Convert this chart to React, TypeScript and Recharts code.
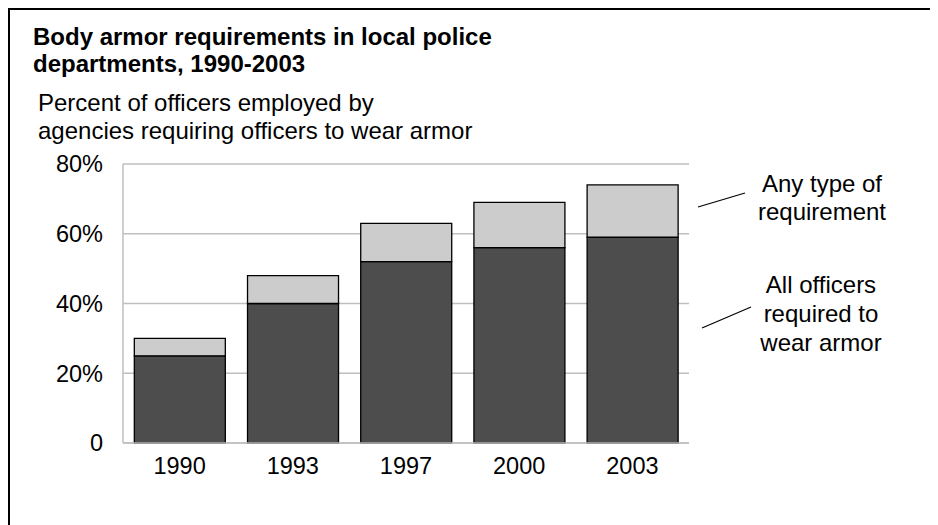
import React from 'react';
import { BarChart, Bar, XAxis, YAxis, CartesianGrid } from 'recharts';

const years = ['1990', '1993', '1997', '2000', '2003'];
// percent of officers in agencies where all officers are required to wear armor
const allOfficers = [25, 40, 52, 56, 59];
// percent of officers in agencies with any type of requirement
const anyRequirement = [30, 48, 63, 69, 74];
const yTicks = [0, 20, 40, 60, 80];

const chartData = years.map((year, i) => ({
  year,
  all: allOfficers[i],
  extra: anyRequirement[i] - allOfficers[i],
}));

const FONT = '"Liberation Sans", Arial, Helvetica, sans-serif';
const W = 930;
const H = 517;

const App: React.FC = () => {
  const tickStyle = { fill: '#000', fontSize: 23.5, fontFamily: FONT };

  return (
    <div style={{ position: 'relative', width: W, height: H, background: '#fff', fontFamily: FONT }}>
      <BarChart
        width={W}
        height={H}
        data={chartData}
        margin={{ top: 156, right: 249, bottom: 52, left: 55 }}
        barCategoryGap="10%"
      >
        <CartesianGrid vertical={false} stroke="#bfbfbf" strokeWidth={1.5} />
        <XAxis
          dataKey="year"
          height={30}
          tickLine={false}
          tickSize={6}
          tickMargin={8}
          axisLine={{ stroke: '#bfbfbf', strokeWidth: 1.5 }}
          tick={tickStyle}
        />
        <YAxis
          width={60}
          domain={[0, 80]}
          ticks={yTicks}
          tickLine={false}
          tickSize={6}
          tickMargin={14}
          axisLine={{ stroke: '#bfbfbf', strokeWidth: 1.5 }}
          tick={tickStyle}
          tickFormatter={(v: number) => (v === 0 ? '0' : `${v}%`)}
        />
        <YAxis
          yAxisId="right"
          orientation="right"
          width={0}
          domain={[0, 80]}
          tick={false}
          tickLine={false}
          axisLine={{ stroke: '#bfbfbf', strokeWidth: 1.5 }}
        />
        <Bar dataKey="all" stackId="a" fill="#4d4d4d" stroke="#000" strokeWidth={1.3} isAnimationActive={false} />
        <Bar dataKey="extra" stackId="a" fill="#cccccc" stroke="#000" strokeWidth={1.3} isAnimationActive={false} />
      </BarChart>

      <svg
        width={W}
        height={H}
        style={{ position: 'absolute', left: 0, top: 0, pointerEvents: 'none' }}
        fontFamily={FONT}
      >
        <rect x={0} y={0} width={2} height={H} fill="#000" />
        <rect x={0} y={0} width={W} height={2} fill="#000" />

        <text x={25} y={28} fontSize={24} fontWeight="bold" dominantBaseline="central">
          Body armor requirements in local police
        </text>
        <text x={25} y={55} fontSize={24} fontWeight="bold" dominantBaseline="central">
          departments, 1990-2003
        </text>
        <text x={30} y={94} fontSize={24} dominantBaseline="central">
          Percent of officers employed by
        </text>
        <text x={30} y={122} fontSize={24} dominantBaseline="central">
          agencies requiring officers to wear armor
        </text>

        <text x={814} y={175} fontSize={24} textAnchor="middle" dominantBaseline="central">Any type of</text>
        <text x={814} y={203} fontSize={24} textAnchor="middle" dominantBaseline="central">requirement</text>
        <line x1={690} y1={199} x2={737} y2={185} stroke="#000" strokeWidth={1.2} />

        <text x={813} y={276} fontSize={24} textAnchor="middle" dominantBaseline="central">All officers</text>
        <text x={813} y={305} fontSize={24} textAnchor="middle" dominantBaseline="central">required to</text>
        <text x={813} y={334} fontSize={24} textAnchor="middle" dominantBaseline="central">wear armor</text>
        <line x1={694} y1={320} x2={743} y2={299} stroke="#000" strokeWidth={1.2} />
      </svg>
    </div>
  );
};

export default App;
